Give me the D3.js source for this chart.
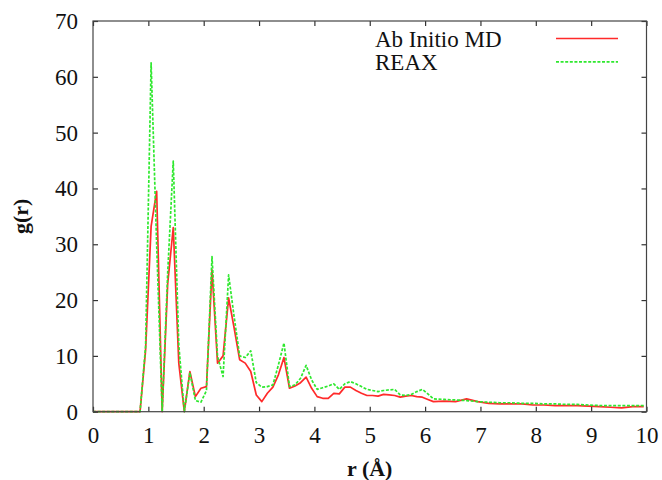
<!DOCTYPE html>
<html>
<head>
<meta charset="utf-8">
<script src="https://cdn.jsdelivr.net/npm/d3@7"></script>
<style>
  body { margin: 0; background: #fff; }
</style>
</head>
<body>
<div id="app"></div>
<script>
// r values (Å), shared by both series
const rValues = [0, 0.85, 0.95, 1.05, 1.15, 1.25, 1.35, 1.45, 1.55, 1.65, 1.75, 1.85, 1.95,
  2.05, 2.15, 2.25, 2.35, 2.45, 2.55, 2.65, 2.75, 2.85, 2.95, 3.05, 3.15, 3.25, 3.35, 3.45,
  3.55, 3.65, 3.75, 3.85, 3.95, 4.05, 4.15, 4.25, 4.35, 4.45, 4.55, 4.65, 4.75, 4.85, 4.95,
  5.05, 5.15, 5.25, 5.35, 5.45, 5.55, 5.65, 5.75, 5.85, 5.95, 6.05, 6.15, 6.35, 6.55, 6.75,
  6.95, 7.15, 7.35, 7.55, 7.75, 7.95, 8.15, 8.35, 8.55, 8.75, 8.95, 9.15, 9.35, 9.55, 9.75, 9.95];

// g(r) for Ab Initio MD
const abInitio = [0, 0, 11, 33.2, 39.5, 0, 23, 33, 8.7, 0, 7.2, 2.7, 4.2,
  4.5, 25.4, 8.7, 10, 20.4, 15, 9.3, 8.7, 7.2, 3, 1.8, 3.3, 4.4, 6.6, 9.7,
  4.2, 4.6, 5.2, 6.2, 4.2, 2.7, 2.4, 2.4, 3.3, 3.2, 4.4, 4.4, 3.8, 3.3, 2.9,
  2.9, 2.8, 3.1, 3.0, 2.9, 2.6, 2.8, 2.9, 2.7, 2.6, 2.2, 1.8, 1.9, 1.8, 2.3,
  1.8, 1.5, 1.4, 1.4, 1.4, 1.2, 1.2, 1.1, 1.1, 1.1, 1.0, 0.9, 0.8, 0.7, 0.9, 0.9];

// g(r) for REAX
const reax = [0, 0, 11.7, 62.5, 30, 0, 25, 44.9, 12, 0, 7, 2, 1.7,
  3.8, 27.8, 9.9, 6.3, 24.5, 17, 10, 9.7, 10.9, 5.2, 4.4, 4.5, 4.8, 8.4, 12.3,
  4.5, 4.8, 6, 8.3, 5.7, 4, 4.3, 4.6, 5, 4, 5, 5.4, 5, 4.5, 4,
  3.8, 3.6, 3.8, 3.9, 4.0, 3.0, 2.9, 3.1, 3.6, 4.0, 3.2, 2.3, 2.2, 2.1, 2.0,
  1.8, 1.7, 1.6, 1.6, 1.5, 1.5, 1.4, 1.4, 1.3, 1.3, 1.2, 1.1, 1.1, 1.1, 1.1, 1.1];

const xTicks = [0, 1, 2, 3, 4, 5, 6, 7, 8, 9, 10];
const yTicks = [0, 10, 20, 30, 40, 50, 60, 70];

const series = [
  { name: "Ab Initio MD", values: abInitio, color: "#ff2a2a", dash: null },
  { name: "REAX", values: reax, color: "#2ee82e", dash: "3,1.6" }
];

const width = 662;
const height = 480;
const margin = { left: 93, right: 15.5, top: 21, bottom: 68.3 };
const serif = "'Liberation Serif', 'Times New Roman', serif";

const x = d3.scaleLinear().domain([0, 10]).range([margin.left, width - margin.right]);
const y = d3.scaleLinear().domain([0, 70]).range([height - margin.bottom, margin.top]);

const svg = d3.select("#app").append("svg")
  .attr("width", width)
  .attr("height", height);

// lines
const line = d3.line()
  .x((d) => x(d[0]))
  .y((d) => y(d[1]));

svg.selectAll(".series")
  .data(series)
  .enter()
  .append("path")
  .attr("class", "series")
  .attr("d", (s) => line(rValues.map((r, i) => [r, s.values[i]])))
  .attr("fill", "none")
  .attr("stroke", (s) => s.color)
  .attr("stroke-width", 1.7)
  .attr("stroke-linejoin", "round")
  .attr("stroke-dasharray", (s) => s.dash);

// axes, ticks pointing inward, mirrored on top/right
const tickLen = 5;
const xAxis = d3.axisBottom(x).tickValues(xTicks).tickSizeInner(-tickLen).tickSizeOuter(0).tickPadding(15);
const yAxis = d3.axisLeft(y).tickValues(yTicks).tickSizeInner(-tickLen).tickSizeOuter(0).tickPadding(15);

svg.append("g")
  .attr("transform", `translate(0,${y(0)})`)
  .call(xAxis);
svg.append("g")
  .attr("transform", `translate(${x(0)},0)`)
  .call(yAxis);

svg.append("g")
  .attr("transform", `translate(0,${y(70)})`)
  .call(d3.axisTop(x).tickValues(xTicks).tickSizeInner(-tickLen).tickSizeOuter(0).tickFormat(""));
svg.append("g")
  .attr("transform", `translate(${x(10)},0)`)
  .call(d3.axisRight(y).tickValues(yTicks).tickSizeInner(-tickLen).tickSizeOuter(0).tickFormat(""));

svg.selectAll(".domain").remove();
svg.selectAll(".tick line").attr("stroke", "#333").attr("stroke-width", 1.2);
svg.selectAll(".tick text")
  .style("font-family", serif)
  .style("font-size", "23px")
  .attr("fill", "#111");

// frame
svg.append("rect")
  .attr("x", x(0))
  .attr("y", y(70))
  .attr("width", x(10) - x(0))
  .attr("height", y(0) - y(70))
  .attr("fill", "none")
  .attr("stroke", "#444")
  .attr("stroke-width", 1.2);

// axis titles
svg.append("text")
  .attr("x", (x(0) + x(10)) / 2)
  .attr("y", 476)
  .attr("text-anchor", "middle")
  .style("font-family", serif)
  .style("font-size", "22px")
  .style("font-weight", "bold")
  .attr("fill", "#111")
  .text("r (Å)");

svg.append("text")
  .attr("transform", `translate(28,${(y(0) + y(70)) / 2}) rotate(-90)`)
  .attr("text-anchor", "middle")
  .style("font-family", serif)
  .style("font-size", "22px")
  .style("font-weight", "bold")
  .attr("fill", "#111")
  .text("g(r)");

// legend
const legend = svg.selectAll(".legend")
  .data(series)
  .enter()
  .append("g")
  .attr("class", "legend")
  .attr("transform", (d, i) => `translate(0,${38.5 + i * 23.3})`);

legend.append("text")
  .attr("x", 375)
  .attr("y", 8.2)
  .style("font-family", serif)
  .style("font-size", "23px")
  .attr("fill", "#111")
  .text((d) => d.name);

legend.append("line")
  .attr("x1", 556)
  .attr("x2", 618)
  .attr("y1", 0)
  .attr("y2", 0)
  .attr("stroke", (d) => d.color)
  .attr("stroke-width", 1.7)
  .attr("stroke-dasharray", (d) => d.dash);
</script>
</body>
</html>
